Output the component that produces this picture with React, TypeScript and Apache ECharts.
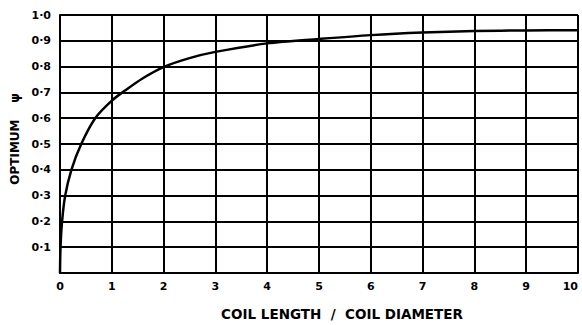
import React, { useEffect, useRef } from "react";
import * as echarts from "echarts";

const ratioValues = [0, 0.01, 0.04, 0.1, 0.22, 0.41, 0.68, 1.0, 1.24, 1.6, 2.02, 2.5, 3, 4, 5, 6, 7, 8, 9, 10];
const psiValues = [0, 0.1, 0.2, 0.3, 0.4, 0.5, 0.6, 0.668, 0.705, 0.755, 0.8, 0.833, 0.857, 0.89, 0.907, 0.922, 0.932, 0.938, 0.94, 0.941];
const xTickLabels = ["0", "1", "2", "3", "4", "5", "6", "7", "8", "9", "10"];
const yTickLabels = ["", "0·1", "0·2", "0·3", "0·4", "0·5", "0·6", "0·7", "0·8", "0·9", "1·0"];

export default function App() {
  const ref = useRef<HTMLDivElement>(null);
  useEffect(() => {
    if (!ref.current) return;
    const chart = echarts.init(ref.current, undefined, { renderer: "svg" });
    const font = "DejaVu Sans";
    chart.setOption({
      animation: false,
      backgroundColor: "#ffffff",
      grid: { left: 60, right: 4, top: 15, bottom: 52, containLabel: false, outerBoundsMode: "none" },
      xAxis: {
        type: "value",
        min: 0,
        max: 10,
        interval: 1,
        name: "COIL LENGTH  /  COIL DIAMETER",
        nameLocation: "middle",
        nameGap: 34,
        nameTextStyle: { color: "#000", fontFamily: font, fontWeight: "bold", fontSize: 13.5, padding: [0, 0, 0, 46] },
        axisLine: { show: true, lineStyle: { color: "#000", width: 2 } },
        axisTick: { show: false },
        axisLabel: {
          color: "#000",
          fontFamily: font,
          fontWeight: "bold",
          fontSize: 11,
          margin: 8,
          alignMaxLabel: "right",
          formatter: (v: number) => xTickLabels[Math.round(v)] ?? "",
        },
        splitLine: { show: true, lineStyle: { color: "#000", width: 2 } },
      },
      yAxis: {
        type: "value",
        min: 0,
        max: 1,
        interval: 0.1,
        name: "OPTIMUM    ψ",
        nameLocation: "middle",
        nameGap: 37,
        nameRotate: 90,
        nameTextStyle: { color: "#000", fontFamily: font, fontWeight: "bold", fontSize: 12, padding: [0, 0, 0, 10] },
        axisLine: { show: true, lineStyle: { color: "#000", width: 2 } },
        axisTick: { show: false },
        axisLabel: {
          color: "#000",
          fontFamily: font,
          fontWeight: "bold",
          fontSize: 11,
          margin: 9,
          formatter: (v: number) => yTickLabels[Math.round(v * 10)] ?? "",
        },
        splitLine: { show: true, lineStyle: { color: "#000", width: 2 } },
      },
      series: [
        {
          type: "line",
          data: ratioValues.map((x, i) => [x, psiValues[i]]),
          smooth: 0.3,
          symbol: "none",
          lineStyle: { color: "#000", width: 2.5 },
          z: 5,
        },
      ],
    });
    return () => chart.dispose();
  }, []);
  return <div ref={ref} style={{ width: 582, height: 325, position: "absolute", left: 0, top: 0 }} />;
}
